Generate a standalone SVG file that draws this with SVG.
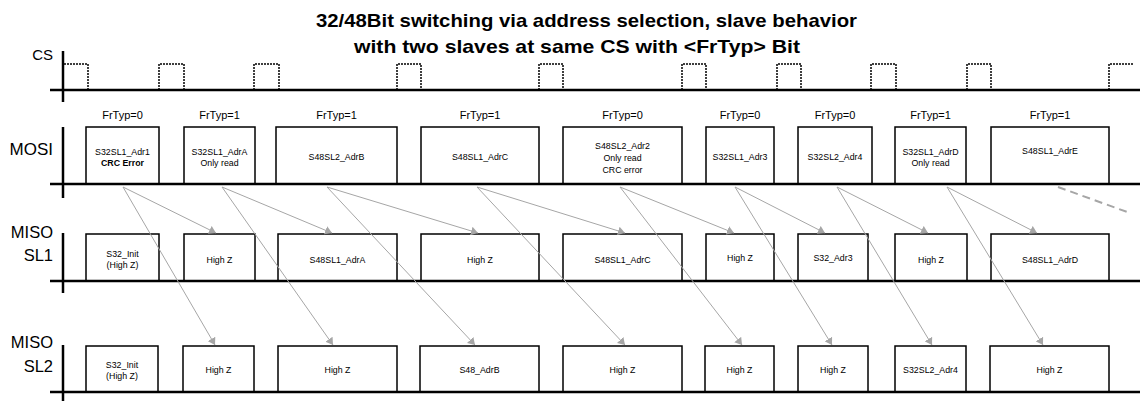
<svg xmlns="http://www.w3.org/2000/svg" width="1144" height="401" viewBox="0 0 1144 401">
<style>
.axis{stroke:#000;stroke-width:2.5;fill:none}
.base{stroke:#000;stroke-width:2.5;fill:none}
.pulse{stroke:#000;stroke-width:1.5;fill:none;stroke-dasharray:2 1}
.box{stroke:#000;stroke-width:1.5;fill:#fff}
.conn{stroke:#a6a6a6;stroke-width:1;fill:none}
.title{font-family:"Liberation Sans",Arial,sans-serif;font-weight:bold;font-size:19px;fill:#000}
.lbl{font-family:"Liberation Sans",Arial,sans-serif;font-size:16.5px;fill:#000;text-anchor:end}
.fr{font-family:"Liberation Sans",Arial,sans-serif;font-size:11px;fill:#000;text-anchor:middle}
.t{font-family:"Liberation Sans",Arial,sans-serif;font-size:8.8px;fill:#000;text-anchor:middle}
.b{font-weight:bold}
</style>
<defs>
<marker id="ah" viewBox="0 0 8 10" refX="8" refY="5" markerWidth="7" markerHeight="9" markerUnits="userSpaceOnUse" orient="auto">
<path d="M0,0 L8,5 L0,10 z" fill="#a6a6a6"/>
</marker>
</defs>
<rect width="1144" height="401" fill="#fff"/>
<g id="title">
<text class="title" x="316" y="27" textLength="541" lengthAdjust="spacingAndGlyphs">32/48Bit switching via address selection, slave behavior</text>
<text class="title" x="354" y="53" textLength="446" lengthAdjust="spacingAndGlyphs">with two slaves at same CS with &lt;FrTyp&gt; Bit</text>
</g>
<g id="cs">
<text class="lbl" x="53" y="60" style="font-size:15px">CS</text>
<line class="axis" x1="63" y1="51" x2="63" y2="102"/>
<line class="base" x1="50" y1="90" x2="1140" y2="90"/>
<path class="pulse" d="M64,64 H88 V90 M159,90 V64 H184 V90 M254,90 V64 H279 V90 M397,90 V64 H421 V90 M539,90 V64 H563 V90 M682,90 V64 H706 V90 M777,90 V64 H801 V90 M871,90 V64 H896 V90 M967,90 V64 H991 V90 M1109,90 V64 H1133"/>
</g>
<g id="mosi">
<text class="lbl" x="53" y="155" style="font-size:17px">MOSI</text>
<g id="mosi-boxes">
<rect class="box" x="86" y="127" width="73" height="57"/>
<rect class="box" x="184" y="127" width="71" height="57"/>
<rect class="box" x="276" y="127" width="121" height="57"/>
<rect class="box" x="421" y="127" width="118" height="57"/>
<rect class="box" x="563" y="127" width="119" height="57"/>
<rect class="box" x="706" y="127" width="68" height="57"/>
<rect class="box" x="798" y="127" width="74" height="57"/>
<rect class="box" x="895" y="127" width="71" height="57"/>
<rect class="box" x="991" y="127" width="118" height="57"/>
</g>
<line class="axis" x1="63" y1="127" x2="63" y2="198"/>
<line class="base" x1="50" y1="184" x2="1140" y2="184"/>
<text class="fr" x="122.5" y="119">FrTyp=0</text>
<text class="fr" x="219.5" y="119">FrTyp=1</text>
<text class="fr" x="336.5" y="119">FrTyp=1</text>
<text class="fr" x="480" y="119">FrTyp=1</text>
<text class="fr" x="622.5" y="119">FrTyp=0</text>
<text class="fr" x="740" y="119">FrTyp=0</text>
<text class="fr" x="835" y="119">FrTyp=0</text>
<text class="fr" x="930.5" y="119">FrTyp=1</text>
<text class="fr" x="1050" y="119">FrTyp=1</text>
<text class="t" x="122.5" y="155">S32SL1_Adr1</text>
<text class="t b" x="122.5" y="166">CRC Error</text>
<text class="t" x="219.5" y="155">S32SL1_AdrA</text>
<text class="t" x="219.5" y="166">Only read</text>
<text class="t" x="336.5" y="160">S48SL2_AdrB</text>
<text class="t" x="480" y="160">S48SL1_AdrC</text>
<text class="t" x="622.5" y="149">S48SL2_Adr2</text>
<text class="t" x="622.5" y="161">Only read</text>
<text class="t" x="622.5" y="173">CRC error</text>
<text class="t" x="740" y="160">S32SL1_Adr3</text>
<text class="t" x="835" y="160">S32SL2_Adr4</text>
<text class="t" x="930.5" y="155">S32SL1_AdrD</text>
<text class="t" x="930.5" y="166">Only read</text>
<text class="t" x="1050" y="154">S48SL1_AdrE</text>
</g>
<g id="miso-sl1">
<text class="lbl" x="53" y="238">MISO</text>
<text class="lbl" x="53" y="261">SL1</text>
<rect class="box" x="86" y="234" width="73" height="47"/>
<rect class="box" x="184" y="234" width="71" height="47"/>
<rect class="box" x="278" y="234" width="119" height="47"/>
<rect class="box" x="421" y="234" width="118" height="47"/>
<rect class="box" x="563" y="234" width="119" height="47"/>
<rect class="box" x="706" y="234" width="68" height="47"/>
<rect class="box" x="798" y="234" width="70" height="47"/>
<rect class="box" x="895" y="234" width="72" height="47"/>
<rect class="box" x="991" y="234" width="118" height="47"/>
<line class="axis" x1="63" y1="233" x2="63" y2="293"/>
<line class="base" x1="50" y1="281" x2="1140" y2="281"/>
<text class="t" x="122.5" y="257">S32_Init</text>
<text class="t" x="122.5" y="268">(High Z)</text>
<text class="t" x="219.5" y="262.5">High Z</text>
<text class="t" x="337.5" y="262.5">S48SL1_AdrA</text>
<text class="t" x="480" y="262.5">High Z</text>
<text class="t" x="622.5" y="262.5">S48SL1_AdrC</text>
<text class="t" x="740" y="261">High Z</text>
<text class="t" x="833" y="260.5">S32_Adr3</text>
<text class="t" x="931" y="262.5">High Z</text>
<text class="t" x="1050" y="262.5">S48SL1_AdrD</text>
</g>
<g id="miso-sl2">
<text class="lbl" x="53" y="348">MISO</text>
<text class="lbl" x="53" y="372">SL2</text>
<rect class="box" x="86" y="346" width="72" height="46"/>
<rect class="box" x="183" y="346" width="71" height="46"/>
<rect class="box" x="278" y="346" width="119" height="46"/>
<rect class="box" x="420" y="346" width="119" height="46"/>
<rect class="box" x="563" y="346" width="119" height="46"/>
<rect class="box" x="705" y="346" width="69" height="46"/>
<rect class="box" x="798" y="346" width="70" height="46"/>
<rect class="box" x="895" y="346" width="71" height="46"/>
<rect class="box" x="990" y="346" width="119" height="46"/>
<line class="axis" x1="63" y1="345" x2="63" y2="401"/>
<line class="base" x1="50" y1="392" x2="1140" y2="392"/>
<text class="t" x="122" y="368">S32_Init</text>
<text class="t" x="122" y="379">(High Z)</text>
<text class="t" x="218.5" y="373">High Z</text>
<text class="t" x="337.5" y="373">High Z</text>
<text class="t" x="479.5" y="373">S48_AdrB</text>
<text class="t" x="622.5" y="373">High Z</text>
<text class="t" x="739.5" y="373">High Z</text>
<text class="t" x="833" y="373">High Z</text>
<text class="t" x="930.5" y="373">S32SL2_Adr4</text>
<text class="t" x="1049.5" y="373">High Z</text>
</g>
<g id="connectors">
<line class="conn" x1="123" y1="187" x2="216" y2="233" marker-end="url(#ah)"/>
<line class="conn" x1="123" y1="187" x2="215" y2="345" marker-end="url(#ah)"/>
<line class="conn" x1="222" y1="187" x2="332" y2="233" marker-end="url(#ah)"/>
<line class="conn" x1="222" y1="187" x2="333" y2="345" marker-end="url(#ah)"/>
<line class="conn" x1="327" y1="187" x2="478" y2="233" marker-end="url(#ah)"/>
<line class="conn" x1="327" y1="187" x2="475" y2="345" marker-end="url(#ah)"/>
<line class="conn" x1="477" y1="187" x2="625" y2="233" marker-end="url(#ah)"/>
<line class="conn" x1="477" y1="187" x2="625" y2="345" marker-end="url(#ah)"/>
<line class="conn" x1="620" y1="187" x2="734" y2="233" marker-end="url(#ah)"/>
<line class="conn" x1="620" y1="187" x2="742" y2="345" marker-end="url(#ah)"/>
<line class="conn" x1="735" y1="187" x2="825" y2="233" marker-end="url(#ah)"/>
<line class="conn" x1="735" y1="187" x2="832" y2="345" marker-end="url(#ah)"/>
<line class="conn" x1="837" y1="187" x2="928" y2="233" marker-end="url(#ah)"/>
<line class="conn" x1="837" y1="187" x2="932" y2="345" marker-end="url(#ah)"/>
<line class="conn" x1="947" y1="187" x2="1037" y2="233" marker-end="url(#ah)"/>
<line class="conn" x1="947" y1="187" x2="1043" y2="345" marker-end="url(#ah)"/>
<line x1="1058" y1="187" x2="1130" y2="213" stroke="#a6a6a6" stroke-width="2" stroke-dasharray="8 5"/>
</g>
</svg>
